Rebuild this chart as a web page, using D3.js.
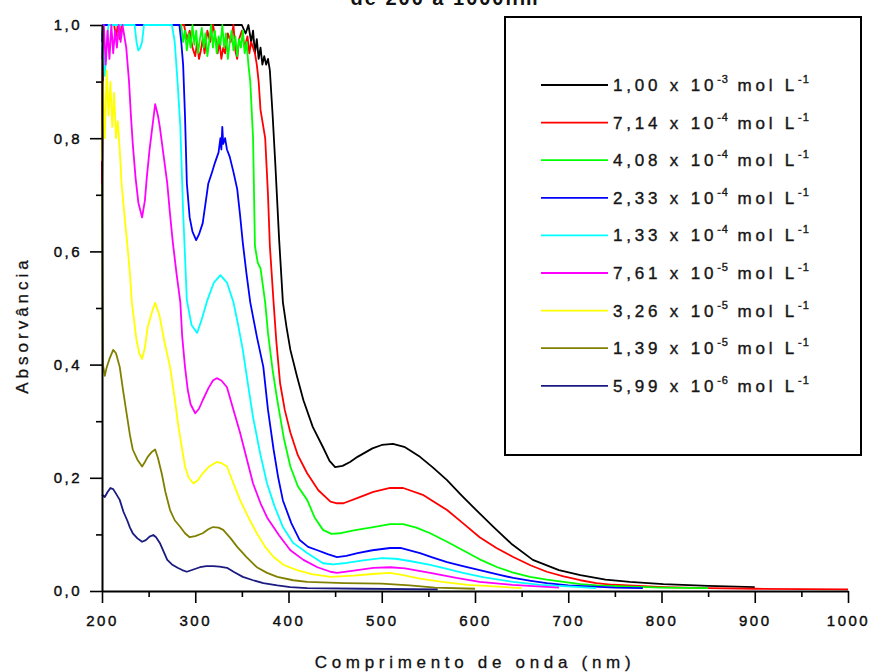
<!DOCTYPE html>
<html>
<head>
<meta charset="utf-8">
<script src="https://cdn.jsdelivr.net/npm/d3@7"></script>
<style>
  body { margin: 0; background: #fff; }
  svg text { font-family: "Liberation Sans", Arial, sans-serif; fill: #111; }
</style>
</head>
<body>
<svg id="chart" width="873" height="672"></svg>
<script>
// concentrations shown in the legend: [mantissa, exponent]
const concLabels = [
  ["1,00", "-3"], ["7,14", "-4"], ["4,08", "-4"], ["2,33", "-4"], ["1,33", "-4"],
  ["7,61", "-5"], ["3,26", "-5"], ["1,39", "-5"], ["5,99", "-6"]
];
const colors = ["#000000", "#ff0000", "#00ff00", "#0000ff", "#00ffff", "#ff00ff", "#ffff00", "#808000", "#1a1a80"];

const xMajor = [200, 300, 400, 500, 600, 700, 800, 900, 1000];
const xMinor = [250, 350, 450, 550, 650, 750, 850, 950];
const yMajor = [0, 0.2, 0.4, 0.6, 0.8, 1.0];
const yMinor = [0.1, 0.3, 0.5, 0.7, 0.9];

// spectra, [wavelength nm, absorbance]
const absBlack = [[200,0.70],[201,1.0],[350,1.0],[354,0.985],[357,1.0],[360,0.97],[362,0.99],[364,0.95],[366,0.975],[368,0.94],[370,0.96],[372,0.93],[374,0.945],[376,0.93],[378,0.94],[380,0.92],[383,0.84],[386,0.75],[390,0.62],[394,0.51],[398,0.465],[402,0.426],[409,0.38],[416,0.337],[426,0.29],[437,0.254],[444,0.23],[450,0.219],[458,0.221],[466,0.228],[474,0.237],[490,0.252],[500,0.258],[512,0.26],[525,0.254],[541,0.237],[555,0.218],[570,0.196],[585,0.17],[600,0.145],[620,0.113],[640,0.082],[662,0.055],[690,0.037],[713,0.028],[740,0.02],[766,0.016],[802,0.012],[850,0.009],[900,0.007]];

const absRed = [[200,0.72],[201,1.0],[213,1.0],[215,0.98],[217,1.0],[219,0.975],[221,1.0],[288,1.0],[291,0.975],[294,0.99],[297,0.96],[300,0.945],[302,0.97],[304,0.94],[306,0.955],[308,0.975],[310,0.95],[313,0.99],[316,0.97],[319,1.0],[322,0.975],[324,0.95],[326,0.97],[328,0.94],[330,0.96],[332,0.95],[335,0.985],[338,0.97],[341,1.0],[343,0.955],[345,0.94],[347,0.975],[350,0.99],[353,0.96],[356,0.98],[358,0.95],[360,0.97],[362,0.96],[364,0.95],[366,0.93],[368,0.9],[370,0.85],[373,0.82],[375,0.8],[378,0.7],[380,0.61],[384,0.51],[387,0.44],[391,0.367],[396,0.32],[402,0.28],[410,0.24],[420,0.208],[432,0.178],[445,0.158],[452,0.155],[459,0.155],[475,0.165],[491,0.175],[509,0.182],[523,0.182],[544,0.17],[570,0.143],[587,0.12],[605,0.095],[623,0.076],[641,0.06],[660,0.045],[677,0.034],[695,0.026],[713,0.019],[730,0.014],[748,0.011],[775,0.009],[802,0.007],[850,0.005],[900,0.004],[1000,0.003]];

const absGreen = [[200,0.98],[201,1.0],[285,1.0],[287,0.97],[289,0.99],[291,0.955],[293,0.985],[295,0.96],[297,1.0],[299,0.965],[301,0.99],[303,0.95],[305,0.975],[307,0.995],[309,0.96],[311,0.985],[313,0.945],[315,0.97],[317,1.0],[319,0.96],[321,0.99],[323,0.95],[325,0.98],[327,0.965],[329,1.0],[331,0.96],[333,0.985],[335,0.94],[337,0.97],[339,0.99],[341,0.955],[343,0.98],[345,0.945],[347,0.975],[349,0.96],[351,0.99],[353,0.95],[355,0.97],[357,0.93],[359,0.9],[362,0.8],[364,0.61],[367,0.58],[370,0.57],[375,0.51],[378,0.456],[383,0.39],[388,0.337],[395,0.27],[402,0.22],[410,0.185],[420,0.161],[428,0.13],[437,0.108],[446,0.101],[455,0.102],[470,0.107],[491,0.113],[509,0.118],[523,0.118],[537,0.112],[552,0.102],[570,0.087],[587,0.072],[605,0.056],[624,0.042],[640,0.033],[659,0.025],[677,0.02],[695,0.016],[713,0.012],[731,0.01],[760,0.008],[800,0.006],[850,0.005]];

const absBlue = [[200,0.97],[201,1.0],[283,1.0],[285,0.97],[287,0.93],[289,0.84],[291,0.72],[294,0.66],[297,0.635],[301,0.62],[304,0.63],[308,0.65],[311,0.685],[314,0.72],[318,0.74],[321,0.756],[325,0.775],[327,0.8],[328,0.78],[329,0.82],[330,0.79],[332,0.8],[334,0.78],[337,0.767],[341,0.74],[345,0.71],[348,0.665],[351,0.615],[355,0.56],[359,0.51],[366,0.45],[373,0.396],[378,0.32],[384,0.25],[389,0.2],[394,0.16],[403,0.12],[412,0.09],[421,0.078],[431,0.072],[442,0.065],[452,0.06],[462,0.062],[474,0.067],[490,0.072],[509,0.076],[520,0.076],[541,0.067],[555,0.059],[570,0.051],[587,0.044],[605,0.037],[623,0.03],[641,0.023],[660,0.018],[677,0.014],[700,0.01],[750,0.006],[780,0.005]];

const absCyan = [[200,0.95],[201,0.98],[203,0.91],[205,0.97],[207,1.0],[235,1.0],[237,0.97],[239,0.955],[241,0.96],[243,0.97],[245,1.0],[275,1.0],[278,0.97],[281,0.9],[284,0.82],[287,0.67],[291,0.514],[296,0.47],[302,0.456],[307,0.48],[313,0.514],[320,0.545],[327,0.558],[334,0.545],[341,0.51],[346,0.47],[351,0.426],[357,0.36],[362,0.307],[370,0.24],[377,0.19],[385,0.15],[394,0.113],[405,0.085],[420,0.067],[437,0.049],[448,0.047],[459,0.049],[480,0.054],[500,0.058],[515,0.057],[530,0.053],[552,0.046],[570,0.039],[587,0.032],[610,0.024],[641,0.016],[670,0.011],[700,0.008],[730,0.005]];

const absMagenta = [[200,0.94],[202,1.0],[204,0.93],[206,0.99],[208,0.94],[210,1.0],[212,0.95],[214,0.99],[216,0.96],[218,1.0],[220,0.97],[222,1.0],[224,0.98],[226,0.96],[227,0.94],[229,0.9],[231,0.84],[233,0.79],[236,0.73],[239,0.686],[243,0.66],[246,0.69],[248,0.73],[251,0.78],[254,0.82],[257,0.86],[260,0.84],[262,0.82],[266,0.77],[270,0.72],[273,0.665],[276,0.615],[280,0.56],[284,0.51],[286,0.45],[289,0.396],[292,0.355],[295,0.33],[300,0.314],[304,0.322],[308,0.337],[314,0.358],[319,0.372],[323,0.376],[328,0.372],[334,0.36],[341,0.32],[348,0.28],[355,0.235],[362,0.19],[370,0.155],[377,0.13],[390,0.098],[402,0.072],[416,0.055],[431,0.042],[445,0.034],[452,0.032],[470,0.036],[491,0.041],[509,0.042],[525,0.04],[552,0.032],[580,0.023],[605,0.016],[640,0.011],[690,0.006]];

const absYellow = [[200,0.76],[201,0.9],[203,0.8],[205,0.92],[207,0.84],[209,0.9],[211,0.82],[213,0.88],[215,0.8],[217,0.83],[219,0.78],[221,0.72],[224,0.665],[227,0.615],[230,0.56],[232,0.51],[235,0.47],[237,0.443],[240,0.42],[243,0.41],[246,0.43],[249,0.466],[253,0.49],[257,0.509],[260,0.495],[262,0.484],[267,0.44],[273,0.396],[278,0.34],[282,0.29],[286,0.25],[289,0.22],[293,0.2],[298,0.19],[303,0.196],[308,0.208],[315,0.22],[323,0.228],[328,0.226],[334,0.22],[341,0.19],[348,0.161],[357,0.13],[366,0.102],[375,0.078],[384,0.06],[395,0.046],[409,0.037],[425,0.03],[445,0.025],[470,0.027],[490,0.03],[509,0.032],[520,0.029],[541,0.022],[565,0.016],[592,0.011],[620,0.008],[650,0.005]];

const absOlive = [[200,0.72],[201,0.4],[203,0.38],[205,0.395],[208,0.41],[212,0.426],[215,0.42],[219,0.396],[223,0.35],[227,0.307],[230,0.275],[233,0.25],[238,0.232],[243,0.22],[246,0.228],[249,0.237],[253,0.245],[257,0.25],[260,0.235],[264,0.208],[268,0.175],[273,0.143],[278,0.125],[284,0.113],[289,0.102],[294,0.095],[300,0.097],[308,0.102],[314,0.109],[319,0.113],[325,0.112],[330,0.108],[338,0.093],[345,0.078],[355,0.06],[366,0.042],[377,0.032],[388,0.025],[405,0.019],[420,0.016],[460,0.014],[500,0.013],[530,0.01],[557,0.006],[600,0.004]];

const absNavy = [[200,0.17],[203,0.166],[206,0.175],[209,0.182],[212,0.18],[215,0.172],[219,0.161],[223,0.14],[227,0.125],[230,0.112],[233,0.102],[238,0.093],[243,0.087],[247,0.09],[251,0.096],[255,0.099],[258,0.095],[262,0.085],[266,0.07],[270,0.055],[275,0.047],[281,0.041],[286,0.037],[291,0.034],[298,0.038],[305,0.042],[312,0.044],[319,0.044],[326,0.043],[334,0.041],[342,0.033],[351,0.025],[362,0.019],[373,0.014],[388,0.01],[402,0.007],[420,0.005],[480,0.004],[560,0.003]];

const spectra = [absBlack, absRed, absGreen, absBlue, absCyan, absMagenta, absYellow, absOlive, absNavy];

const svg = d3.select("#chart");

const x = d3.scaleLinear().domain([200, 1000]).range([102, 848]);
const y = d3.scaleLinear().domain([0, 1]).range([591, 25]);

const commaFmt = d => d3.format(".1f")(d).replace(".", ",");

// title (mostly cut off at the top edge, as in the original)
svg.append("text")
  .attr("x", 445).attr("y", 5)
  .attr("text-anchor", "middle")
  .style("font-size", "20px").style("font-weight", "bold").style("letter-spacing", "2px")
  .text("de 200 a 1000nm");

// curves
const line = d3.line().x(d => x(d[0])).y(d => y(d[1]));
svg.append("g").attr("class", "lines")
  .selectAll("path").data(spectra).join("path")
  .attr("d", line)
  .attr("fill", "none")
  .attr("stroke", (d, i) => colors[i])
  .attr("stroke-width", 1.8)
  .attr("stroke-linejoin", "round");

// axes
svg.append("g").attr("transform", "translate(0,591)")
  .call(d3.axisBottom(x).tickValues(xMajor).tickSize(12).tickSizeOuter(0).tickPadding(12).tickFormat(d3.format("d")));
svg.append("g").attr("transform", "translate(0,591)")
  .call(d3.axisBottom(x).tickValues(xMinor).tickSize(6).tickFormat(""))
  .call(g => g.select(".domain").remove());

svg.append("g").attr("transform", "translate(102,0)")
  .call(d3.axisLeft(y).tickValues(yMajor).tickSize(12).tickSizeOuter(0).tickPadding(8).tickFormat(commaFmt));
svg.append("g").attr("transform", "translate(102,0)")
  .call(d3.axisLeft(y).tickValues(yMinor).tickSize(6).tickFormat(""))
  .call(g => g.select(".domain").remove());

svg.selectAll(".domain").attr("stroke", "#000").attr("stroke-width", 2);
svg.selectAll(".tick line").attr("stroke", "#000").attr("stroke-width", 1.6);
svg.selectAll(".tick text")
  .style("font-size", "15px").style("letter-spacing", "2.5px")
  .attr("fill", "#000").attr("stroke", "#000").attr("stroke-width", 0.4);

// axis titles
svg.append("text")
  .attr("x", 475).attr("y", 668)
  .attr("text-anchor", "middle")
  .style("font-size", "17px").style("letter-spacing", "4.7px")
  .attr("stroke", "#111").attr("stroke-width", 0.3)
  .text("Comprimento de onda (nm)");

svg.append("text")
  .attr("transform", "translate(28,325) rotate(-90)")
  .attr("text-anchor", "middle")
  .style("font-size", "17px").style("letter-spacing", "4px")
  .attr("stroke", "#111").attr("stroke-width", 0.3)
  .text("Absorvância");

// legend
const legend = svg.append("g").attr("class", "legend");
legend.append("rect")
  .attr("x", 505).attr("y", 17).attr("width", 356).attr("height", 438)
  .attr("fill", "#fff").attr("stroke", "#000").attr("stroke-width", 2);

const rows = legend.selectAll("g.item").data(concLabels).join("g")
  .attr("class", "item")
  .attr("transform", (d, i) => `translate(0,${85 + i * 37.6})`);

rows.append("line")
  .attr("x1", 541).attr("x2", 608)
  .attr("stroke", (d, i) => colors[i]).attr("stroke-width", 1.8);

const label = rows.append("text")
  .attr("x", 613).attr("y", 6)
  .style("font-size", "17px").style("letter-spacing", "3.8px")
  .attr("fill", "#222").attr("stroke", "#222").attr("stroke-width", 0.4);
label.append("tspan").text(d => d[0] + " x 10");
label.append("tspan").attr("dy", -8).style("font-size", "11px").style("letter-spacing", "1px").text(d => d[1]);
label.append("tspan").attr("dy", 8).text(" mol L");
label.append("tspan").attr("dy", -8).style("font-size", "11px").style("letter-spacing", "1px").text("-1");
</script>
</body>
</html>
